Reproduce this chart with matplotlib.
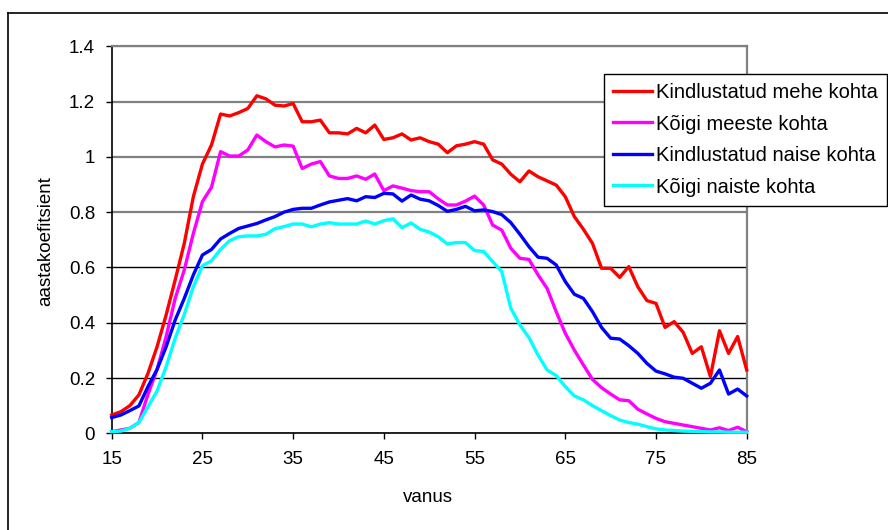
import matplotlib
matplotlib.use("Agg")
import matplotlib.pyplot as plt
from matplotlib.lines import Line2D

plt.rcParams['font.family'] = ['Liberation Sans', 'DejaVu Sans']

ages = list(range(15, 86))

kindl_mehe = [0.066, 0.078, 0.100, 0.139, 0.217, 0.313, 0.428, 0.555, 0.687, 0.856,
              0.974, 1.043, 1.155, 1.148, 1.160, 1.175, 1.221, 1.210, 1.187, 1.184,
              1.193, 1.127, 1.127, 1.133, 1.087, 1.087, 1.083, 1.103, 1.087, 1.115,
              1.063, 1.069, 1.083, 1.061, 1.069, 1.055, 1.046, 1.015, 1.040, 1.046,
              1.055, 1.046, 0.989, 0.974, 0.937, 0.910, 0.949, 0.928, 0.913, 0.898,
              0.856, 0.784, 0.738, 0.687, 0.597, 0.597, 0.564, 0.603, 0.530, 0.480,
              0.470, 0.383, 0.404, 0.365, 0.289, 0.313, 0.205, 0.371, 0.289, 0.350,
              0.229]

koigi_meeste = [0.006, 0.012, 0.018, 0.039, 0.141, 0.231, 0.350, 0.488, 0.591, 0.723,
                0.838, 0.890, 1.019, 1.003, 1.003, 1.025, 1.079, 1.055, 1.036, 1.043,
                1.039, 0.958, 0.974, 0.983, 0.931, 0.922, 0.922, 0.931, 0.919, 0.938,
                0.878, 0.895, 0.887, 0.878, 0.874, 0.874, 0.848, 0.826, 0.826, 0.840,
                0.858, 0.826, 0.753, 0.735, 0.669, 0.633, 0.629, 0.573, 0.524, 0.440,
                0.362, 0.301, 0.247, 0.195, 0.165, 0.142, 0.121, 0.118, 0.087, 0.070,
                0.054, 0.042, 0.036, 0.030, 0.024, 0.018, 0.012, 0.020, 0.010, 0.022,
                0.006]

kindl_naise = [0.057, 0.066, 0.082, 0.099, 0.169, 0.231, 0.313, 0.410, 0.488, 0.573,
               0.645, 0.665, 0.703, 0.723, 0.741, 0.750, 0.759, 0.772, 0.784, 0.800,
               0.810, 0.814, 0.814, 0.826, 0.837, 0.843, 0.849, 0.841, 0.856, 0.853,
               0.868, 0.866, 0.840, 0.862, 0.847, 0.841, 0.824, 0.803, 0.810, 0.821,
               0.805, 0.808, 0.802, 0.791, 0.762, 0.720, 0.675, 0.637, 0.633, 0.609,
               0.549, 0.503, 0.488, 0.440, 0.383, 0.344, 0.341, 0.317, 0.289, 0.253,
               0.225, 0.215, 0.203, 0.199, 0.181, 0.163, 0.181, 0.229, 0.142, 0.160,
               0.135]

koigi_naiste = [0.006, 0.008, 0.018, 0.039, 0.096, 0.153, 0.241, 0.344, 0.430, 0.530,
                0.606, 0.624, 0.665, 0.697, 0.711, 0.714, 0.714, 0.720, 0.740, 0.748,
                0.757, 0.757, 0.747, 0.757, 0.762, 0.757, 0.757, 0.757, 0.768, 0.757,
                0.769, 0.776, 0.744, 0.761, 0.738, 0.728, 0.711, 0.685, 0.690, 0.690,
                0.661, 0.658, 0.621, 0.585, 0.452, 0.392, 0.346, 0.283, 0.229, 0.209,
                0.169, 0.135, 0.121, 0.100, 0.082, 0.064, 0.048, 0.039, 0.033, 0.024,
                0.016, 0.012, 0.010, 0.008, 0.007, 0.006, 0.005, 0.005, 0.004, 0.004,
                0.004]

labels = ["Kindlustatud mehe kohta", "Kõigi meeste kohta",
          "Kindlustatud naise kohta", "Kõigi naiste kohta"]
colors = ["#FF0000", "#FF00FF", "#0000FF", "#00FFFF"]
series = [kindl_mehe, koigi_meeste, kindl_naise, koigi_naiste]

xticks = [15, 25, 35, 45, 55, 65, 75, 85]
yticks = [0, 0.2, 0.4, 0.6, 0.8, 1.0, 1.2, 1.4]
yticklabels = ["0", "0.2", "0.4", "0.6", "0.8", "1", "1.2", "1.4"]

W, H = 888, 530
fig = plt.figure(figsize=(W / 100, H / 100), dpi=100)
ax = fig.add_axes([111.7 / W, 1 - 433.3 / H, (746.7 - 111.7) / W, (433.3 - 46.3) / H])

fs = 13.5
leg_fs = 14.5
handles = []
for vals, c, lab in zip(series, colors, labels):
    h, = ax.plot(ages, vals, color=c, lw=2.4, label=lab, clip_on=False, zorder=3,
                 solid_joinstyle='round')
    handles.append(h)

ax.set_xlim(15, 85)
ax.set_ylim(0, 1.4)
ax.set_xticks(xticks)
ax.set_xticklabels([str(t) for t in xticks], fontsize=fs)
ax.set_yticks(yticks)
ax.set_yticklabels(yticklabels, fontsize=fs)
ax.tick_params(axis='both', direction='out', length=4.3, width=1.0, color='black')
ax.tick_params(axis='y', pad=7.7)
ax.tick_params(axis='x', pad=8.5)

ax.set_axisbelow(True)
ax.grid(axis='y', color='black', lw=1.0)
for gl, t in zip(ax.yaxis.get_gridlines(), yticks):
    if t >= 0.8:
        gl.set_color('#808080')
        gl.set_linewidth(1.6)

for s in ['left', 'bottom']:
    ax.spines[s].set_color('black')
    ax.spines[s].set_linewidth(1.2)
for s in ['top', 'right']:
    ax.spines[s].set_color('#808080')
    ax.spines[s].set_linewidth(1.6)

fig.text(46 / W, 1 - 241 / H, "aastakoefitsient", rotation=90, ha='center', va='center',
         fontsize=fs)
fig.text(428 / W, 1 - 497 / H, "vanus", ha='center', va='center', fontsize=fs)

leg = ax.legend(handles=handles, loc='upper left',
                bbox_to_anchor=(604 / W, 1 - 74 / H), bbox_transform=fig.transFigure,
                fontsize=leg_fs, frameon=True, fancybox=False, shadow=False,
                borderpad=0.45, labelspacing=0.62, handlelength=1.95,
                handletextpad=0.2, borderaxespad=0)
leg.get_frame().set_edgecolor('black')
leg.get_frame().set_linewidth(1.0)
leg.get_frame().set_alpha(1)
for lh in leg.get_lines():
    lh.set_linewidth(2.4)

# outer chart border (top and left visible)
fig.add_artist(Line2D([7.5 / W, 1.0], [1 - 13 / H, 1 - 13 / H], color='black', lw=1.2,
                      transform=fig.transFigure))
fig.add_artist(Line2D([7.5 / W, 7.5 / W], [0, 1 - 13 / H], color='black', lw=1.2,
                      transform=fig.transFigure))

fig.savefig("out.png", dpi=100)
